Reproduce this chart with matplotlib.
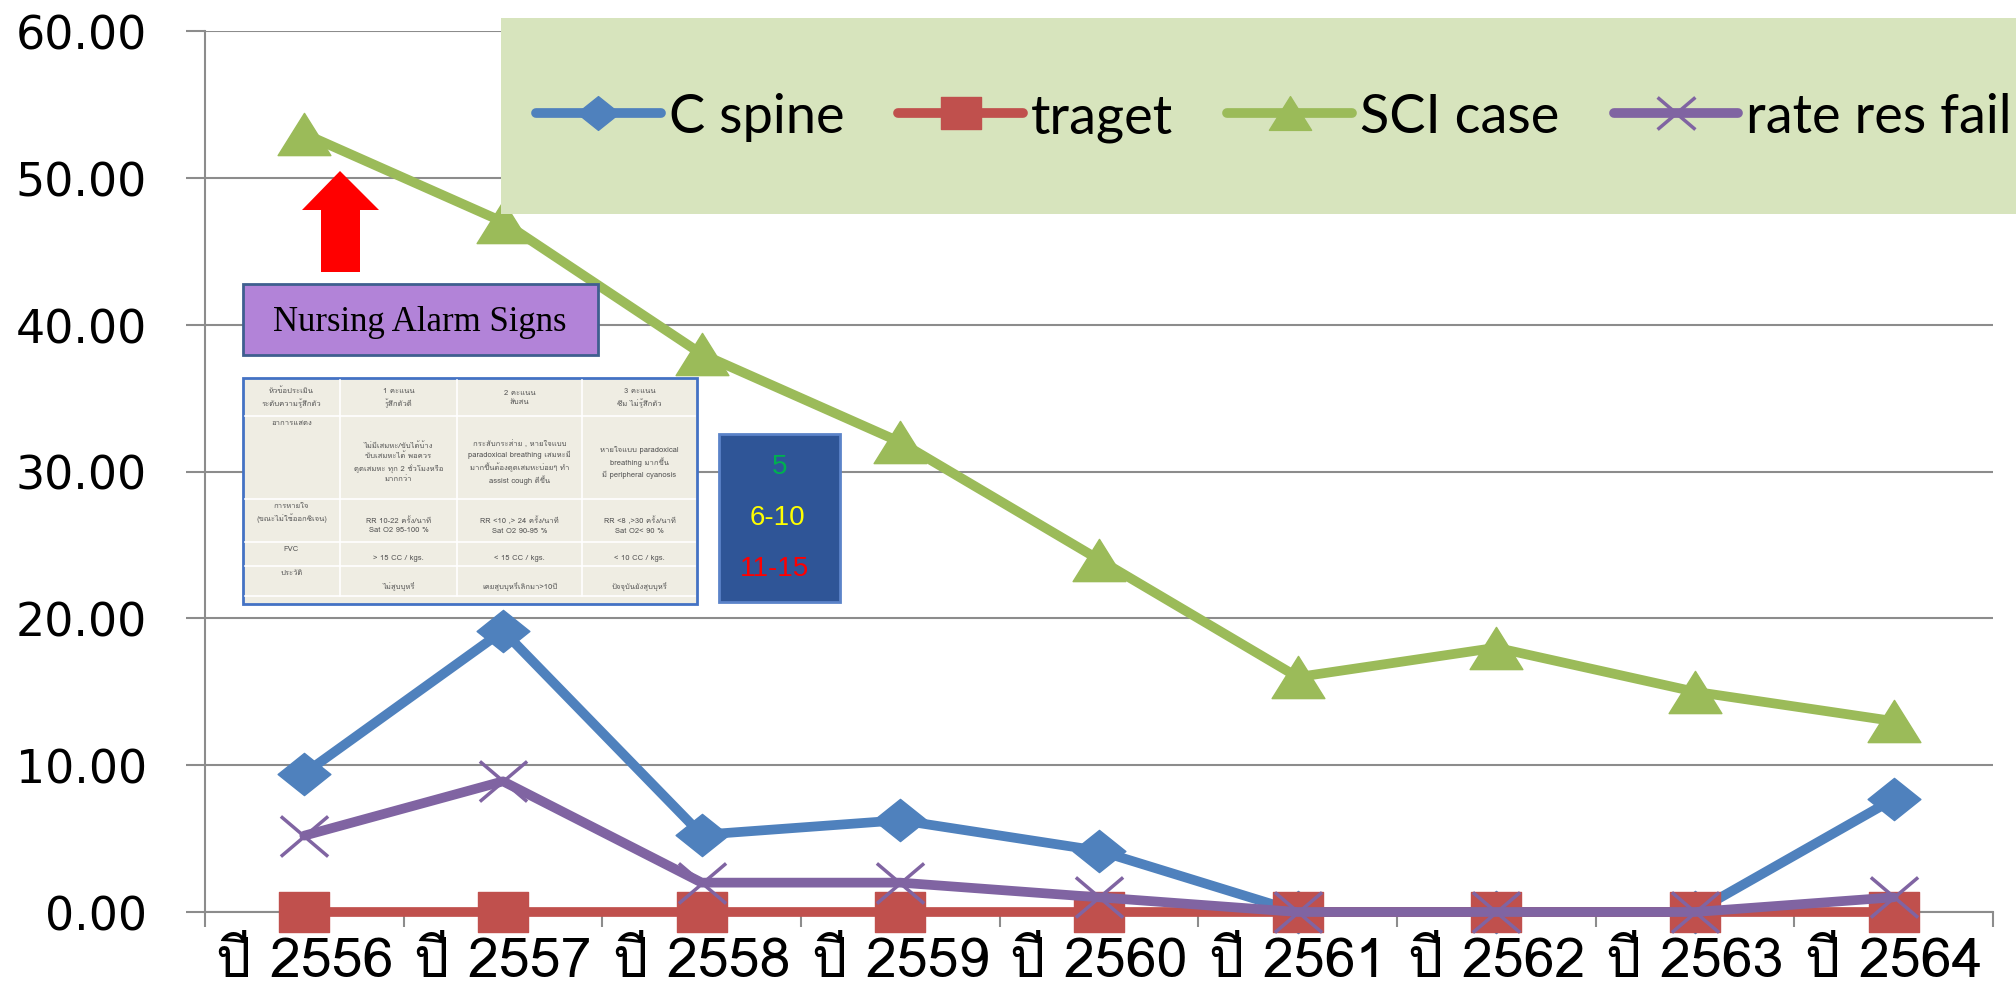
import matplotlib
matplotlib.use("Agg")
import matplotlib.pyplot as plt
from matplotlib import font_manager, ft2font
from matplotlib.path import Path
from matplotlib.patches import Rectangle, Polygon

# data
years = ["ปี 2556", "ปี 2557", "ปี 2558", "ปี 2559", "ปี 2560",
         "ปี 2561", "ปี 2562", "ปี 2563", "ปี 2564"]
c_spine = [9.43, 19.15, 5.26, 6.25, 4.17, 0.0, 0.0, 0.0, 7.69]
traget = [0.0, 0.0, 0.0, 0.0, 0.0, 0.0, 0.0, 0.0, 0.0]
sci_case = [53, 47, 38, 32, 24, 16, 18, 15, 13]
rate_res_fail = [5.2, 8.9, 2.0, 2.0, 1.0, 0.0, 0.0, 0.0, 1.0]
series_names = ["C spine", "traget", "SCI case", "rate res fail"]
y_ticks = [0, 10, 20, 30, 40, 50, 60]

# pasted alarm-sign table
tab_header = ["หัวข้อประเมิน\nระดับความรู้สึกตัว", "1 คะแนน\nรู้สึกตัวดี", "2 คะแนน\nสับสน", "3 คะแนน\nซึม ไม่รู้สึกตัว"]
tab_signs = ["อาการแสดง",
             "ไม่มีเสมหะ/ขับได้บ้าง\nขับเสมหะได้ พอควร\nดูดเสมหะ ทุก 2 ชั่วโมงหรือ\nมากกว่า",
             "กระสับกระส่าย , หายใจแบบ\nparadoxical breathing เสมหะมี\nมากขึ้นต้องดูดเสมหะบ่อยๆ ทำ\nassist cough ดีขึ้น",
             "หายใจแบบ paradoxical\nbreathing มากขึ้น\nมี peripheral cyanosis"]
tab_breath = ["การหายใจ\n(ขณะไม่ใช้ออกซิเจน)", "RR 10-22 ครั้ง/นาที\nSat O2 95-100 %",
              "RR <10 ,> 24 ครั้ง/นาที\nSat O2 90-95 %", "RR <8 ,>30 ครั้ง/นาที\nSat O2< 90 %"]
tab_fvc = ["FVC", "> 15 CC / kgs.", "< 15 CC / kgs.", "< 10 CC / kgs."]
tab_hist = ["ประวัติ", "ไม่สูบบุหรี่", "เคยสูบบุหรี่เลิกมา>10ปี", "ปัจจุบันยังสูบบุหรี่"]
score_labels = ["5", "6-10", "11-15"]
score_colors = ["#00b050", "#ffff00", "#ff0000"]


def thai_family():
    for f in font_manager.fontManager.ttflist:
        try:
            if ft2font.FT2Font(f.fname).get_char_index(0x0E1B):
                return f.name
        except Exception:
            pass
    return "DejaVu Sans"


THAI = [thai_family(), "DejaVu Sans"]

fig = plt.figure(figsize=(20.16, 10.03), dpi=100)
ax = fig.add_axes([205 / 2016, 1 - 913 / 1003, 1788 / 2016, 881 / 1003])

x = list(range(len(years)))
diamond = Path([(-1, 0), (0, 0.8), (1, 0), (0, -0.8), (-1, 0)], closed=True)
square = Path([(-1, -0.8), (1, -0.8), (1, 0.8), (-1, 0.8), (-1, -0.8)], closed=True)
triangle = Path([(0, 0.8), (1, -0.8), (-1, -0.8), (0, 0.8)], closed=True)
cross = Path([(-1, -0.85), (1, 0.85), (-1, 0.85), (1, -0.85)],
             [Path.MOVETO, Path.LINETO, Path.MOVETO, Path.LINETO])

l1, = ax.plot(x, c_spine, color="#4f81bd", lw=7, marker=diamond, ms=38,
              solid_capstyle="round", label=series_names[0], zorder=3, clip_on=False)
l2, = ax.plot(x, traget, color="#c0504d", lw=7, marker=square, ms=36,
              solid_capstyle="round", label=series_names[1], zorder=4, clip_on=False)
l3, = ax.plot(x, sci_case, color="#9bbb59", lw=7, marker=triangle, ms=38,
              solid_capstyle="round", label=series_names[2], zorder=5, clip_on=False)
l4, = ax.plot(x, rate_res_fail, color="#8064a2", lw=7, marker=cross, ms=34,
              mfc="none", mec="#8064a2", mew=2.5, solid_capstyle="round",
              label=series_names[3], zorder=6, clip_on=False)

ax.set_xlim(-0.5, len(years) - 0.5)
ax.set_ylim(0, 60)
ax.set_yticks(y_ticks)
ax.set_yticklabels([f"{v:.2f}" for v in y_ticks], fontsize=33, family="DejaVu Sans")
ax.set_xticks(x)
ax.set_xticklabels(years, fontsize=40, family=THAI)
ax.set_xticks([i - 0.5 for i in range(len(years) + 1)], minor=True)
ax.tick_params(axis="x", which="major", length=0, pad=18)
ax.tick_params(axis="x", which="minor", length=11, width=1.5, color="#8c8c8c")
ax.tick_params(axis="y", length=14, width=1.5, color="#8c8c8c", pad=28)
ax.yaxis.grid(True, color="#8c8c8c", lw=1.5)
ax.set_axisbelow(True)
for s in ["top", "right"]:
    ax.spines[s].set_visible(False)
for s in ["left", "bottom"]:
    ax.spines[s].set_color("#8c8c8c")
    ax.spines[s].set_linewidth(1.5)

# overlay in image pixel coordinates for the pasted shapes
ov = fig.add_axes([0, 0, 1, 1], zorder=3)
ov.set_xlim(0, 2016)
ov.set_ylim(1003, 0)
ov.axis("off")
ov.patch.set_alpha(0)

ov.add_patch(Rectangle((501, 19), 1515, 196, fc="#d7e4bd", ec="none"))

ov.add_patch(Polygon([(340, 172), (379, 211), (360, 211), (360, 273),
                      (321, 273), (321, 211), (302, 211)], closed=True,
                     fc="#ff0000", ec="none"))

ov.add_patch(Rectangle((243, 285), 355, 71, fc="#b283d8", ec="#3f5f8f", lw=2))
ov.text(420, 322, "Nursing Alarm Signs", ha="center", va="center",
        fontsize=25, family="Liberation Serif", color="black")

# table
col_x = [243, 340, 457, 582, 697]
row_y = [379, 417, 500, 543, 567, 597, 605]
ov.add_patch(Rectangle((243, 379), 454, 226, fc="#efede3", ec="#4472c4", lw=2, zorder=1))
for cx in col_x[1:-1]:
    ov.plot([cx, cx], [row_y[0] + 2, row_y[-2]], color="white", lw=1.2, zorder=2)
for ry in row_y[1:-1]:
    ov.plot([col_x[0] + 2, col_x[-1] - 2], [ry, ry], color="white", lw=1.2, zorder=2)
rows = [tab_header, tab_signs, tab_breath, tab_fvc, tab_hist]
for r, cells in enumerate(rows):
    y0, y1 = row_y[r], row_y[r + 1]
    for c, txt in enumerate(cells):
        cx = (col_x[c] + col_x[c + 1]) / 2
        if c == 0 and r > 0:
            ov.text(cx, y0 + 3, txt, ha="center", va="top", fontsize=5.5,
                    family=THAI, color="#555555", linespacing=1.5, zorder=3)
        else:
            ov.text(cx, (y0 + y1) / 2 + (4 if r > 0 else 0), txt, ha="center",
                    va="center", fontsize=5.5, family=THAI, color="#555555",
                    linespacing=1.5, zorder=3)

# score box
ov.add_patch(Rectangle((719, 435), 121, 168, fc="#2f5597", ec="#5b83c9", lw=2))
for i, (lab, col) in enumerate(zip(score_labels, score_colors)):
    ov.text(780 - 3 * i, 467 + 51 * i, lab, ha="center", va="center",
            fontsize=20, family="Liberation Sans", color=col)

fig.legend(handles=[l1, l2, l3, l4], loc="center", bbox_to_anchor=(1274 / 2016, 1 - 118 / 1003),
           ncol=4, frameon=False, prop={"family": "Lato", "size": 39},
           handlelength=2.3, handletextpad=0.15, columnspacing=1.0, markerscale=0.8)

fig.savefig("out.png", dpi=100)
